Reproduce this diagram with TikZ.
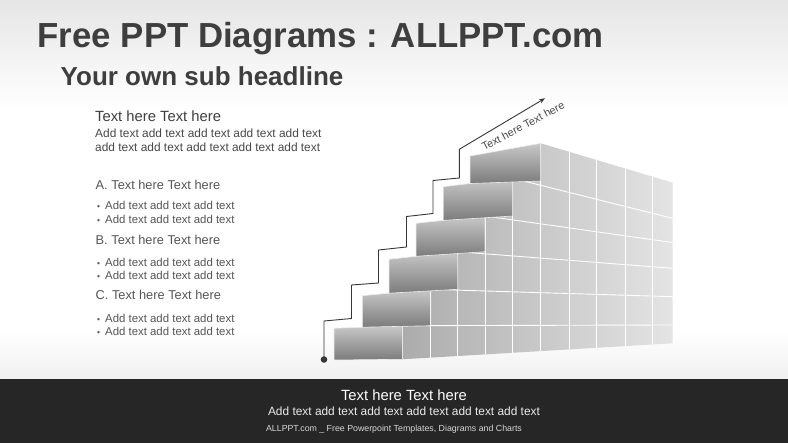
\documentclass[tikz,border=0pt]{standalone}
\usepackage{fontspec}
\setmainfont{Liberation Sans}
\usetikzlibrary{arrows.meta}
\definecolor{titlec}{RGB}{62,62,62}
\definecolor{bodyc}{RGB}{72,72,72}
\definecolor{itemc}{RGB}{85,85,85}
\definecolor{bgtop}{RGB}{230,230,230}
\definecolor{bgbot}{RGB}{240,240,240}
\definecolor{barc}{RGB}{38,38,38}
\definecolor{wallL}{RGB}{172,172,172}
\definecolor{wallR}{RGB}{228,228,228}
\definecolor{faceT}{RGB}{200,200,200}
\definecolor{faceB}{RGB}{124,124,124}
\definecolor{linec}{RGB}{55,55,55}
\definecolor{foot}{RGB}{215,215,215}
\newcommand{\bul}{{\fontsize{8.5}{8.5}\selectfont•}\hspace{5pt}}
\tikzset{
  face/.style={top color=faceT, bottom color=faceB, draw=white!85!gray, line width=0.6pt},
  grid/.style={draw=white, line width=0.9pt},
  stair/.style={draw=linec, line width=0.9pt},
  txt/.style={inner sep=0pt, anchor=base west},
  fs/.code={\pgfkeysalso{font=\fontsize{#1}{#1}\selectfont}}
}
\begin{document}
\begin{tikzpicture}[x=1pt,y=-1pt]
\useasboundingbox (0,0) rectangle (788,443);
% background
\fill[white] (0,0) rectangle (788,378.7);
\shade[top color=bgtop, bottom color=white] (0,0) rectangle (788,110);
\shade[top color=white, bottom color=bgbot] (0,330) rectangle (788,378.7);
\fill[barc] (0,378.7) rectangle (788,443);

% headings
\node[txt, fs=34.8, text=titlec] (title) at (37.5,47.5) {\bfseries Free PPT Diagrams : ALLPPT.com};
\node[txt, fs=26, text=titlec] (sub) at (60.5,86) {\bfseries Your own sub headline};

% left text
\node[txt, fs=14.8, text=titlec] (lh) at (95,121.7) {Text here Text here};
\node[txt, fs=11.9, text=bodyc] (lb1) at (95,137.7) {Add text add text add text add text add text};
\node[txt, fs=11.9, text=bodyc] (lb2) at (95,151.7) {add text add text add text add text add text};

\node[txt, fs=12.8, text=itemc] (A) at (95.5,189.3) {A. Text here Text here};
\node[txt, fs=11.4, text=itemc] (a1) at (97,210) {\bul Add text add text add text};
\node[txt, fs=11.4, text=itemc] (a2) at (97,223.3) {\bul Add text add text add text};
\node[txt, fs=12.8, text=itemc] (B) at (95.5,244.3) {B. Text here Text here};
\node[txt, fs=11.4, text=itemc] (b1) at (97,266.7) {\bul Add text add text add text};
\node[txt, fs=11.4, text=itemc] (b2) at (97,280) {\bul Add text add text add text};
\node[txt, fs=12.8, text=itemc] (C) at (95.5,300) {C. Text here Text here};
\node[txt, fs=11.4, text=itemc] (c1) at (97,322.7) {\bul Add text add text add text};
\node[txt, fs=11.4, text=itemc] (c2) at (97,335.7) {\bul Add text add text add text};

% wall
\shade[left color=wallL, right color=wallR]
  (402.3,359.3) -- (672.7,343.3) -- (672.7,182.7) -- (540.7,143.3) -- (540.7,181)
  -- (512.7,178.3) -- (512.7,216) -- (485,216) -- (485,251.7) -- (457.7,251.7)
  -- (457.7,289.3) -- (430.7,289.3) -- (430.7,325.7) -- (402.3,325.7) -- cycle;
% horizontal grid lines
\draw[grid] (512.7,178.3) -- (672.7,218.3);
\draw[grid] (485,216) -- (672.7,242.5);
\draw[grid] (457.7,251.7) -- (672.7,268.3);
\draw[grid] (430.7,289.3) -- (672.7,296.7);
\draw[grid] (402.3,325.7) -- (672.7,325);
% vertical grid lines
\draw[grid] (402.3,325.7) -- (402.3,359.3);
\draw[grid] (430.7,289.3) -- (430.7,357.6);
\draw[grid] (457.7,251.7) -- (457.7,356.0);
\draw[grid] (485,216) -- (485,354.4);
\draw[grid] (512.7,178.3) -- (512.7,352.8);
\draw[grid] (540.7,143.3) -- (540.7,351.1);
\draw[grid] (569.3,151.8) -- (569.3,349.4);
\draw[grid] (596.7,160.0) -- (596.7,347.8);
\draw[grid] (625,168.5) -- (625,346.1);
\draw[grid] (652.7,176.8) -- (652.7,344.5);

% step faces
\shade[face] (334,328.3) -- (402.3,325.7) -- (402.3,359.3) -- (334,360) -- cycle;
\shade[face] (362.3,295.7) -- (430.7,289.3) -- (430.7,325.7) -- (362.3,327.2) -- cycle;
\shade[face] (389,259.3) -- (457.7,251.7) -- (457.7,289.3) -- (389,293.2) -- cycle;
\shade[face] (416,223.3) -- (485,216) -- (485,251.7) -- (416,256.3) -- cycle;
\shade[face] (443.3,186.7) -- (512.7,178.3) -- (512.7,216) -- (443.3,220.4) -- cycle;
\shade[face] (470,156) -- (540.7,143.3) -- (540.7,181) -- (470,183.5) -- cycle;

% stair line with arrow
\coordinate (p0) at (324,359.5);
\coordinate (p1) at (324,321);
\coordinate (p2) at (351.5,318.5);
\coordinate (p3) at (351.5,285);
\coordinate (p4) at (378.5,283);
\coordinate (p5) at (378.5,250);
\coordinate (p6) at (406.5,247);
\coordinate (p7) at (406.5,216.5);
\coordinate (p8) at (433,213.5);
\coordinate (p9) at (433,180.5);
\coordinate (p10) at (459.3,178);
\coordinate (p11) at (459.3,149.3);
\coordinate (tip) at (545,98.3);
\draw[stair, -{Stealth[length=6pt,width=4.5pt]}] (p0) -- (p1) -- (p2) -- (p3) -- (p4) -- (p5) -- (p6)
  -- (p7) -- (p8) -- (p9) -- (p10) -- (p11) -- (tip);
\fill[linec] (p0) circle (3.3);
\node[fs=10.8, text=bodyc, rotate=28, inner sep=0pt] (arrtxt) at (523,126) {Text here Text here};

% footer
\node[inner sep=0pt, anchor=base, fs=14.8, text=white] (f1) at (404,401) {Text here Text here};
\node[inner sep=0pt, anchor=base, fs=11.9, text=white!92!black] (f2) at (404,415.7) {Add text add text add text add text add text add text};
\node[inner sep=0pt, anchor=base, fs=8.8, text=foot] (f3) at (394,431.7) {ALLPPT.com \_ Free Powerpoint Templates, Diagrams and Charts};
\end{tikzpicture}
\end{document}
